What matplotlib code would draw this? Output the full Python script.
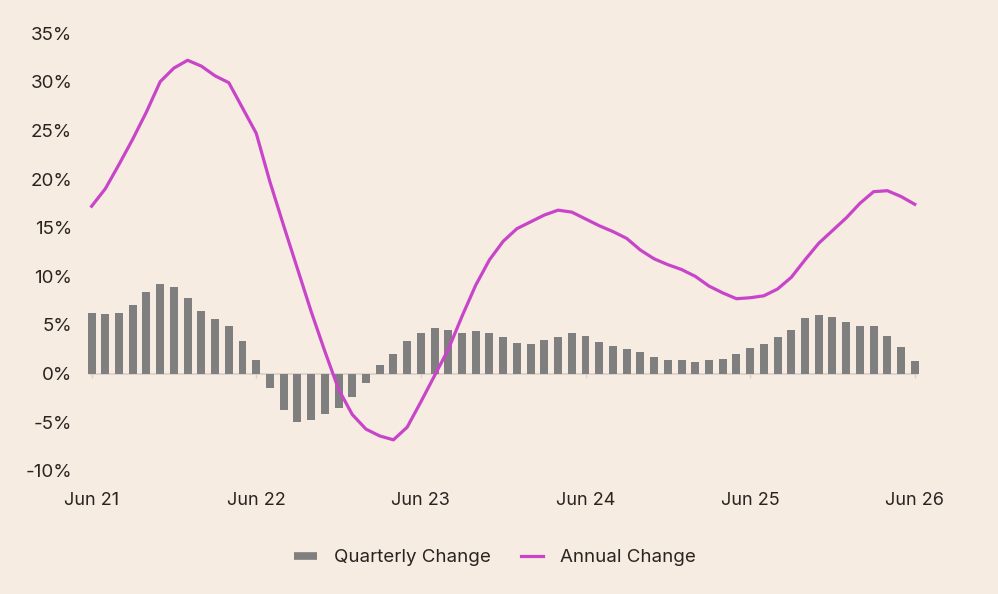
import matplotlib
matplotlib.use("Agg")
import matplotlib.pyplot as plt
from matplotlib.lines import Line2D
import numpy as np

plt.rcParams['font.family'] = ['Inter', 'DejaVu Sans']

# monthly data, Jun 21 .. Jun 26
quarterly = [6.2, 6.1, 6.2, 7.1, 8.4, 9.2, 8.9, 7.8, 6.4, 5.6, 4.9, 3.4, 1.4,
             -1.5, -3.7, -5.0, -4.8, -4.1, -3.5, -2.4, -1.0, 0.9, 2.0, 3.4,
             4.2, 4.7, 4.5, 4.2, 4.4, 4.2, 3.8, 3.2, 3.0, 3.5, 3.8, 4.2, 3.9,
             3.3, 2.8, 2.5, 2.2, 1.7, 1.4, 1.4, 1.2, 1.4, 1.5, 2.0, 2.6, 3.0,
             3.8, 4.5, 5.7, 6.0, 5.8, 5.3, 4.9, 4.9, 3.9, 2.7, 1.3]
annual = [17.2, 19.0, 21.5, 24.1, 26.9, 30.0, 31.4, 32.2, 31.6, 30.6, 29.9,
          27.3, 24.7, 19.7, 15.2, 10.8, 6.4, 2.3, -1.6, -4.2, -5.7, -6.4,
          -6.8, -5.5, -2.9, -0.2, 2.5, 5.9, 9.1, 11.7, 13.6, 14.9, 15.6,
          16.3, 16.8, 16.6, 15.9, 15.2, 14.6, 13.9, 12.7, 11.8, 11.2, 10.7,
          10.0, 9.0, 8.3, 7.7, 7.8, 8.0, 8.7, 9.9, 11.7, 13.4, 14.7, 16.0,
          17.5, 18.7, 18.8, 18.2, 17.4]
year_labels = ['Jun 21', 'Jun 22', 'Jun 23', 'Jun 24', 'Jun 25', 'Jun 26']
y_ticks = [-10, -5, 0, 5, 10, 15, 20, 25, 30, 35]

bg = '#F7ECE1'
bar_col = '#7F7F7F'
line_col = '#C845C9'
txt = '#2A2421'

x = np.arange(len(quarterly))
year_pos = np.arange(0, len(quarterly), 12)

fig = plt.figure(figsize=(9.98, 5.94), dpi=100, facecolor=bg)
ax = fig.add_axes([0.0849, 0.2071, 0.8386, 0.7373])
ax.set_facecolor(bg)

ax.hlines(0, -0.2, len(x) - 0.8, color='#D9CFC6', lw=1.2, zorder=1)
ax.vlines(year_pos, -0.45, 0, color='#D9CFC6', lw=1.0, zorder=1)
ax.bar(x, quarterly, width=0.58, color=bar_col, zorder=2)
ax.plot(x, annual, color=line_col, lw=2.3, zorder=3)

ax.set_xlim(-0.5, len(x) - 0.5)
ax.set_ylim(-10, 35)
ax.set_yticks(y_ticks)
ax.set_yticklabels([f'{v}%' for v in y_ticks])
ax.set_xticks(year_pos)
ax.set_xticklabels(year_labels)
ax.tick_params(axis='both', length=0, labelsize=13.5, colors=txt)
ax.tick_params(axis='x', labelsize=13)
ax.tick_params(axis='y', pad=9)
ax.tick_params(axis='x', pad=15)
for s in ax.spines.values():
    s.set_visible(False)

handles = [Line2D([], [], color=bar_col, lw=5.5, solid_capstyle='butt'),
           Line2D([], [], color=line_col, lw=2.3)]
fig.legend(handles, ['Quarterly Change', 'Annual Change'], loc='center',
           bbox_to_anchor=(0.496, 0.061), ncol=2, frameon=False,
           fontsize=13.5, handlelength=1.2, handletextpad=0.9,
           columnspacing=1.6, labelcolor=txt)

fig.savefig('out.png', dpi=100, facecolor=bg)
